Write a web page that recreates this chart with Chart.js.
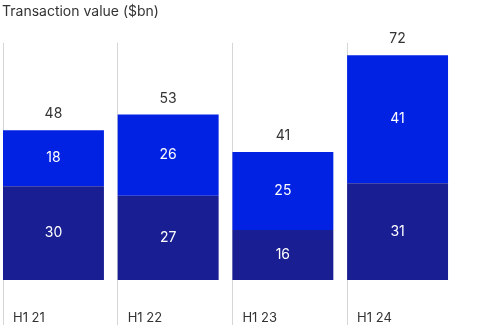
<!DOCTYPE html>
<html>
<head>
<meta charset="utf-8">
<script src="https://cdn.jsdelivr.net/npm/chart.js@4"></script>
<style>
  html, body { margin: 0; padding: 0; background: #ffffff; }
  #wrap { width: 492px; height: 330px; }
</style>
</head>
<body>
<div id="wrap"><canvas id="myChart" width="492" height="330"></canvas></div>
<script>
// chart data
const categories = ['H1 21', 'H1 22', 'H1 23', 'H1 24'];
const baseValues = [30, 27, 16, 31];
const topValues = [18, 26, 25, 41];
const totals = [48, 53, 41, 72];

const barPct = 0.88;
const fontFamily = 'Inter, "Noto Sans", sans-serif';

// bars sit at 0..n-1 on a linear x axis, gridlines/labels at each bar's left edge
const toPoints = arr => arr.map((v, i) => ({ x: i, y: v }));
const edgeTicks = categories.map((c, i) => i - barPct / 2);
const xMin = -barPct / 2 - 1 / 114.7;
const xMax = xMin + 490 / 114.7;

// value labels inside segments and totals above the stack
const labelPlugin = {
  id: 'valueLabels',
  afterDatasetsDraw(chart) {
    const ctx = chart.ctx;
    ctx.save();
    ctx.font = '14px ' + fontFamily;
    ctx.textAlign = 'center';
    ctx.textBaseline = 'middle';
    chart.data.datasets.forEach((ds, di) => {
      chart.getDatasetMeta(di).data.forEach((bar, i) => {
        ctx.fillStyle = '#ffffff';
        ctx.fillText(String(ds.data[i].y), bar.x, (bar.y + bar.base) / 2);
        if (di === chart.data.datasets.length - 1) {
          ctx.fillStyle = '#333333';
          ctx.fillText(String(totals[i]), bar.x, bar.y - 16);
        }
      });
    });
    ctx.restore();
  }
};

const ctx = document.getElementById('myChart').getContext('2d');

const data = {
  datasets: [
    {
      label: 'Base',
      data: toPoints(baseValues),
      backgroundColor: '#1a1e93',
      barPercentage: barPct,
      categoryPercentage: 1
    },
    {
      label: 'Top',
      data: toPoints(topValues),
      backgroundColor: '#0222e3',
      barPercentage: barPct,
      categoryPercentage: 1
    }
  ]
};

const config = {
  type: 'bar',
  data: data,
  options: {
    responsive: false,
    animation: false,
    layout: { padding: { left: 2, right: 0, top: 0, bottom: 0 } },
    plugins: {
      legend: { display: false },
      tooltip: { enabled: false },
      title: {
        display: true,
        text: 'Transaction value ($bn)',
        align: 'start',
        color: '#333333',
        font: { family: fontFamily, size: 14, weight: 'normal' },
        padding: { top: 3, bottom: 23 }
      }
    },
    scales: {
      x: {
        type: 'linear',
        stacked: true,
        offset: false,
        bounds: 'data',
        min: xMin,
        max: xMax,
        afterBuildTicks: scale => {
          scale.ticks = edgeTicks.map(v => ({ value: v }));
        },
        afterFit: scale => { scale.height = 50; },
        grid: {
          offset: false,
          color: '#d6d6d6',
          lineWidth: 1,
          drawTicks: true,
          tickLength: 45
        },
        border: { display: false },
        ticks: {
          callback: (value, index) => categories[index],
          align: 'start',
          labelOffset: 10,
          padding: -15,
          maxRotation: 0,
          autoSkip: false,
          color: '#333333',
          font: { family: fontFamily, size: 13 }
        }
      },
      y: {
        display: false,
        stacked: true,
        min: 0,
        max: 76
      }
    }
  },
  plugins: [labelPlugin]
};

const myChart = new Chart(ctx, config);
</script>
</body>
</html>
